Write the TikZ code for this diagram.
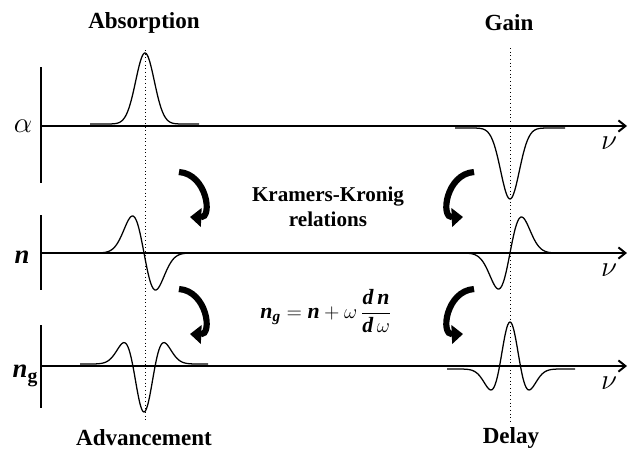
\documentclass[tikz,border=0pt]{standalone}
\usepackage{amsmath}
\usepackage{fontspec}
\setmainfont{Liberation Serif}
\usepackage{tikz}
\usetikzlibrary{arrows.meta,positioning,calc}

\begin{document}
\begin{tikzpicture}[
  x=0.025cm,y=-0.025cm,
  declare function={gau(\t)=exp(-(\t*\t)/2);},
  axisline/.style={line width=1.4pt,-{Straight Barb[length=5pt,width=8pt]}},
  vbar/.style={line width=1.4pt},
  curve/.style={line width=0.9pt,smooth,samples=121},
  marker/.style={dotted,line width=0.6pt},
  turnarrow/.style={line width=4.4pt,-{Triangle[length=8pt,width=13pt]}},
  heading/.style={font=\fontsize{16.4}{19}\selectfont\bfseries},
  quantity/.style={font=\fontsize{19}{22}\selectfont},
  freq/.style={font=\fontsize{20}{22}\selectfont}
]
  \useasboundingbox (0,0) rectangle (629,450);

  \node[heading] (absorption)  at (144,23)  {Absorption};
  \node[heading] (gain)        at (509,23)  {Gain};
  \node[heading] (advancement) at (144,438) {Advancement};
  \node[heading] (delay)       at (511,438) {Delay};

  \node[freq] (alpha) at (23,126) {$\alpha$};
  \node[quantity] (index) at (22,257) {\textbf{\textit{n}}};
  \node[quantity] (group) at (25,376) {\textbf{\textit{n}}\raisebox{-0.35ex}{\fontsize{14}{16}\selectfont\bfseries g}};
  \node[freq] (nu1) at (609,143) {$\nu$};
  \node[freq] (nu2) at (609,270) {$\nu$};
  \node[freq] (nu3) at (609,383) {$\nu$};

  \node[font=\fontsize{15}{18}\selectfont\bfseries,align=center] (kk) at (328,207)
    {Kramers-Kronig\\relations};
  \node[font=\fontsize{15.5}{18}\selectfont] (formula) at (326,311)
    {$\textbf{\textit{n}}_{\textbf{\textit{g}}} = \textbf{\textit{n}} + \omega\,\dfrac{\textbf{\textit{d\,n}}}{\textbf{\textit{d\,}}\omega}$};

  \coordinate (o1) at (41,126);  \coordinate (e1) at (627,126);
  \coordinate (o2) at (41,253);  \coordinate (e2) at (627,253);
  \coordinate (o3) at (41,366);  \coordinate (e3) at (627,366);
  \coordinate (t1) at (41,67);   \coordinate (b1) at (41,183);
  \coordinate (t2) at (41,215);  \coordinate (b2) at (41,290);
  \coordinate (t3) at (41,325);  \coordinate (b3) at (41,408);
  \draw[vbar] (t1) -- (b1);
  \draw[vbar] (t2) -- (b2);
  \draw[vbar] (t3) -- (b3);
  \draw[axisline] (o1) -- (e1);
  \draw[axisline] (o2) -- (e2);
  \draw[axisline] (o3) -- (e3);

  \coordinate (mlt) at (145,50);  \coordinate (mlb) at (145,422);
  \coordinate (mrt) at (510,48);  \coordinate (mrb) at (510,422);
  \draw[marker] (mlt) -- (mlb);
  \draw[marker] (mrt) -- (mrb);

  \draw[curve,domain=90:199]  plot (\x,{124-71*gau((\x-145)/9.3)});
  \draw[curve,domain=455:565] plot (\x,{128+71*gau((\x-510)/9.3)});
  \draw[curve,domain=100:188] plot (\x,{253+37*((\x-144)/11.5)*exp(0.5)*gau((\x-144)/11.5)});
  \draw[curve,domain=466:554] plot (\x,{253-36*((\x-510)/11.5)*exp(0.5)*gau((\x-510)/11.5)});
  \draw[curve,domain=80:208]  plot (\x,{364+48*(1-((\x-144)/11.5)^2)*gau((\x-144)/11.5)});
  \draw[curve,domain=447:575] plot (\x,{369-47*(1-((\x-510)/11)^2)*gau((\x-510)/11)});

  \coordinate (kl1s) at (179,172); \coordinate (kl1e) at (190,217);
  \coordinate (kl2s) at (179,289); \coordinate (kl2e) at (190,334);
  \coordinate (kr1s) at (474,172); \coordinate (kr1e) at (463,217);
  \coordinate (kr2s) at (474,289); \coordinate (kr2e) at (463,334);
  \draw[turnarrow] (kl1s) .. controls ($(kl1s)+(28,2)$) and ($(kl1s)+(34,46)$) .. (kl1e);
  \draw[turnarrow] (kl2s) .. controls ($(kl2s)+(28,2)$) and ($(kl2s)+(34,46)$) .. (kl2e);
  \draw[turnarrow] (kr1s) .. controls ($(kr1s)+(-28,2)$) and ($(kr1s)+(-34,46)$) .. (kr1e);
  \draw[turnarrow] (kr2s) .. controls ($(kr2s)+(-28,2)$) and ($(kr2s)+(-34,46)$) .. (kr2e);
\end{tikzpicture}
\end{document}
